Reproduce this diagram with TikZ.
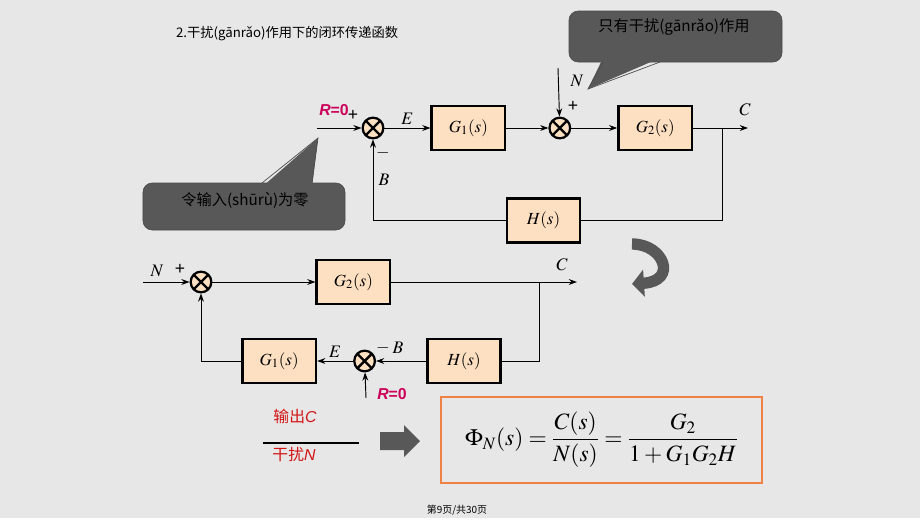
\documentclass[tikz,border=0pt]{standalone}
\usepackage{mathptmx}
\usepackage[no-math]{fontspec}
\setmainfont{Liberation Sans}
\newfontfamily\cjk{Noto Sans CJK SC}
\usetikzlibrary{positioning,arrows.meta,calc}
\definecolor{bggray}{RGB}{231,231,231}
\definecolor{peach}{RGB}{253,223,193}
\definecolor{calloutgray}{RGB}{88,88,88}
\definecolor{rzero}{RGB}{204,0,90}
\definecolor{outred}{RGB}{210,20,20}
\definecolor{frameorange}{RGB}{240,130,70}
\begin{document}
\begin{tikzpicture}[
    x=0.03cm, y=-0.03cm,
    block/.style={rectangle, draw=black, line width=2.2pt, fill=peach, minimum width=2.2cm, minimum height=1.33cm, font=\fontsize{14.5}{17}\selectfont},
    sumnode/.style={circle, draw=black, line width=1.9pt, fill=peach, minimum size=0.62cm, inner sep=0pt,
        path picture={\draw[line width=2pt] (path picture bounding box.north west) -- (path picture bounding box.south east)
            (path picture bounding box.north east) -- (path picture bounding box.south west);}},
    arrow/.style={-{Stealth[length=7pt,width=5pt]}, line width=0.8pt},
    wire/.style={line width=0.8pt},
    sig/.style={font=\fontsize{15}{18}\selectfont, inner sep=1pt},
    sign/.style={font=\fontsize{15}{17}\selectfont, inner sep=0pt},
    callout/.style={rectangle, rounded corners=8pt, fill=calloutgray, draw=black!70, line width=0.6pt},
    calltext/.style={font=\cjk\fontsize{13}{15}\selectfont},
    rlabel/.style={text=rzero, font=\fontsize{13.5}{15}\selectfont\bfseries, inner sep=0pt},
    redtext/.style={text=outred, font=\cjk\fontsize{13.5}{16}\selectfont}
]
    \fill[bggray] (0,0) rectangle (920,518);

    % title
    \node[font=\cjk\fontsize{11.3}{13}\selectfont, anchor=west] (title) at (172,34) {2.干扰(gānrǎo)作用下的闭环传递函数};

    % callouts
    \node[callout, minimum width=6.39cm, minimum height=1.53cm] (cbox1) at (675.5,36.5) {};
    \fill[calloutgray] (603,58) -- (588,89) -- (660,58) -- cycle;
    \draw[black!70, line width=0.6pt] (603,62) -- (588,89) -- (660,62);
    \node[calltext] (ctext1) at (674,27) {只有干扰(gānrǎo)作用};

    \node[callout, minimum width=6.06cm, minimum height=1.41cm] (cbox2) at (244,206.5) {};
    \fill[calloutgray] (262,187) -- (318,138) -- (312,187) -- cycle;
    \draw[black!70, line width=0.6pt] (262,183) -- (318,138) -- (312,183);
    \node[calltext] (ctext2) at (245,200) {令输入(shūrù)为零};

    % upper loop
    \node[sumnode] (s1) at (373,128) {};
    \node[block, right=1.38cm of s1] (g1) {$G_1(s)$};
    \node[sumnode, right=1.26cm of g1] (s2) {};
    \node[block, right=1.38cm of s2] (g2) {$G_2(s)$};
    \node[block] (h) at (543.5,220.5) {$H(s)$};

    \coordinate (rin) at (317,128);
    \coordinate (nin) at (558,68);
    \coordinate (cout) at (748,128);
    \coordinate (br1) at (722,128);

    \draw[arrow] (rin) -- (s1);
    \draw[arrow] (s1) -- node[sig, above=2pt] {$E$} (g1);
    \draw[arrow] (g1) -- (s2);
    \draw[arrow] (nin) -- (s2);
    \draw[arrow] (s2) -- (g2);
    \draw[arrow] (g2) -- (cout);
    \draw[wire] (br1) |- (h.east);
    \draw[arrow] (h.west) -| (s1.south);

    \node[rlabel] (r0a) at (334,110) {\textit{R}=0};
    \node[sign] (p1) at (353,115) {+};
    \node[sig] (labn) at (577,81) {$N$};
    \node[sign] (p2) at (573,106) {+};
    \node[sig] (labc) at (745,110) {$C$};
    \node[sign] (m1) at (383,153) {$-$};
    \node[sig] (labb) at (384,180) {$B$};

    % turn arrow
    \draw[calloutgray, line width=0.34cm, -{Triangle[length=0.36cm,width=0.8cm]}]
        (632,244) .. controls (664,244) and (678,281) .. (632,284);

    % lower loop
    \node[sumnode] (s3) at (201,282) {};
    \node[block, right=3.09cm of s3] (g2b) {$G_2(s)$};
    \node[block] (hb) at (464,361) {$H(s)$};
    \node[sumnode, left=1.5cm of hb] (s4) {};
    \node[block, left=1.08cm of s4] (g1b) {$G_1(s)$};

    \coordinate (nin2) at (143,282);
    \coordinate (cout2) at (577,282);
    \coordinate (br2) at (539,282);
    \coordinate (rin2) at (366,398);

    \draw[arrow] (nin2) -- (s3);
    \draw[arrow] (s3) -- (g2b);
    \draw[arrow] (g2b) -- (cout2);
    \draw[wire] (br2) |- (hb.east);
    \draw[arrow] (hb) -- (s4);
    \draw[arrow] (s4) -- node[sig, above=2pt] {$E$} (g1b);
    \draw[arrow] (g1b.west) -| (s3.south);
    \draw[arrow] (rin2) -- (s4);

    \node[sig] (labn2) at (157,271) {$N$};
    \node[sign] (p3) at (180,269) {+};
    \node[sig] (labc2) at (562,265) {$C$};
    \node[sign] (m2) at (383,348) {$-$};
    \node[sig] (labb2) at (398,348) {$B$};
    \node[rlabel] (r0b) at (392,394) {\textit{R}=0};

    % result
    \node[redtext] (outc) at (295,416) {输出{\normalfont\itshape C}};
    \coordinate (fl) at (263,443);
    \coordinate (fr) at (359,443);
    \draw[line width=1pt] (fl) -- (fr);
    \node[redtext] (distn) at (294,454) {干扰{\normalfont\itshape N}};

    \fill[calloutgray] (380,432) -- (404,432) -- (404,425) -- (420,441) -- (404,457) -- (404,450) -- (380,450) -- cycle;

    \node[draw=frameorange, line width=1.4pt, minimum width=9.63cm, minimum height=2.58cm, font=\fontsize{20}{24}\selectfont] (phi) at (601.5,440)
        {$\displaystyle \Phi_{N}(s)=\frac{C(s)}{N(s)}=\frac{G_2}{1+G_1G_2H}$};

    \node[font=\cjk\fontsize{8.5}{10}\selectfont] (foot) at (457,510) {第9页/共30页};
\end{tikzpicture}
\end{document}
